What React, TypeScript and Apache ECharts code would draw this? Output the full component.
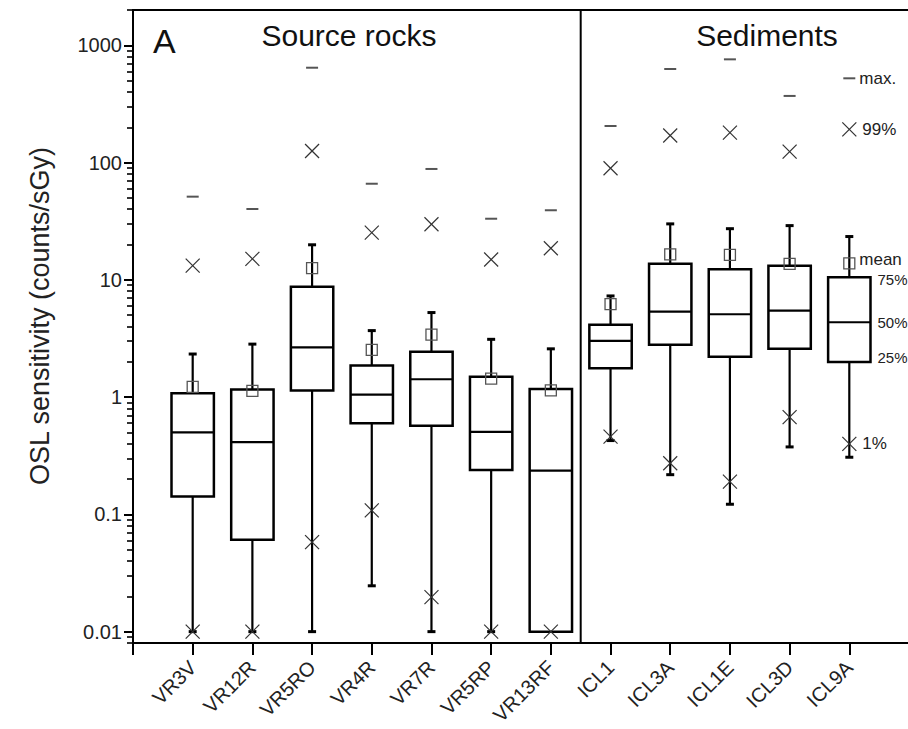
import { useEffect, useRef } from 'react';
import * as echarts from 'echarts';

// ---- data ----
const categories = ['VR3V', 'VR12R', 'VR5RO', 'VR4R', 'VR7R', 'VR5RP', 'VR13RF', 'ICL1', 'ICL3A', 'ICL1E', 'ICL3D', 'ICL9A'];
const whiskerLow = [0.01, 0.01, 0.01, 0.0246, 0.01, 0.01, 0.01, 0.426, 0.218, 0.122, 0.376, 0.307];
const q1 = [0.142, 0.0607, 1.14, 0.598, 0.569, 0.239, 0.01, 1.76, 2.79, 2.21, 2.59, 1.99];
const median = [0.5, 0.413, 2.66, 1.05, 1.42, 0.505, 0.236, 3.02, 5.36, 5.09, 5.46, 4.35];
const q3 = [1.08, 1.16, 8.75, 1.86, 2.44, 1.49, 1.17, 4.13, 13.7, 12.3, 13.2, 10.5];
const whiskerHigh = [2.33, 2.83, 19.9, 3.69, 5.26, 3.11, 2.58, 7.29, 30.0, 27.3, 29.0, 23.4];
const mean = [1.22, 1.13, 12.6, 2.53, 3.41, 1.44, 1.14, 6.2, 16.5, 16.3, 13.7, 13.8];
const p1 = [0.01, 0.01, 0.058, 0.108, 0.0197, 0.01, 0.01, 0.46, 0.273, 0.19, 0.674, 0.399];
const p99 = [13.2, 15.1, 125.6, 25.3, 29.8, 14.9, 18.6, 89.4, 170, 180, 124, 192];
const maxV = [51.2, 40.2, 644, 66, 88.2, 33.2, 39.2, 205, 628, 759, 370, 523];

const yTickValues = [0.01, 0.1, 1, 10, 100, 1000];
const yMin = 0.008;
const yMax = 2000;
const groupTitles = ['Source rocks', 'Sediments'];
const panelLabel = 'A';
const groupDivider = 7.5;
const yAxisTitle = 'OSL sensitivity (counts/sGy)';
const legendLabels = { max: 'max.', p99: '99%', mean: 'mean', q3: '75%', median: '50%', q1: '25%', p1: '1%' };

const minorTicks: number[] = [];
for (let e = -3; e <= 3; e++) {
  for (let m = 2; m <= 9; m++) {
    const v = m * Math.pow(10, e);
    if (v >= yMin && v <= yMax) minorTicks.push(v);
  }
}

const FONT = "'Liberation Sans', Arial, Helvetica, sans-serif";

export default function App() {
  const ref = useRef<HTMLDivElement>(null);
  useEffect(() => {
    if (!ref.current) return;
    const chart = echarts.init(ref.current, undefined, { renderer: 'svg' });
    const data = categories.map((_, i) => [
      i + 1, whiskerLow[i], q1[i], median[i], q3[i], whiskerHigh[i], mean[i], p1[i], p99[i], maxV[i],
    ]);
    const last = categories.length - 1;

    const renderItem = (params: any, api: any) => {
      const x = api.value(0);
      const py = (idx: number) => api.coord([x, api.value(idx)])[1];
      const cx = api.coord([x, 1])[0];
      const half = api.size([1, 1])[0] * 0.355;
      const yWL = py(1), yQ1 = py(2), yMed = py(3), yQ3 = py(4), yWH = py(5), yMean = py(6), yP1 = py(7), yP99 = py(8), yMaxP = py(9);
      const black = { stroke: '#000', lineWidth: 2.2 };
      const cross = (y: number) => [
        { type: 'line', shape: { x1: cx - 7, y1: y - 7, x2: cx + 7, y2: y + 7 }, style: { stroke: '#333', lineWidth: 1.2 } },
        { type: 'line', shape: { x1: cx - 7, y1: y + 7, x2: cx + 7, y2: y - 7 }, style: { stroke: '#333', lineWidth: 1.2 } },
      ];
      const children: any[] = [
        { type: 'line', shape: { x1: cx, y1: yQ3, x2: cx, y2: yWH }, style: black },
        { type: 'line', shape: { x1: cx - 4, y1: yWH, x2: cx + 4, y2: yWH }, style: { stroke: '#000', lineWidth: 3 } },
      ];
      if (yWL - yQ1 > 1) {
        children.push({ type: 'line', shape: { x1: cx, y1: yQ1, x2: cx, y2: yWL }, style: black });
        children.push({ type: 'line', shape: { x1: cx - 4, y1: yWL, x2: cx + 4, y2: yWL }, style: { stroke: '#000', lineWidth: 3 } });
      }
      children.push(
        { type: 'rect', shape: { x: cx - half, y: yQ3, width: half * 2, height: yQ1 - yQ3 }, style: { fill: '#fff', stroke: '#000', lineWidth: 2.5 } },
        { type: 'line', shape: { x1: cx - half, y1: yMed, x2: cx + half, y2: yMed }, style: black },
        { type: 'rect', shape: { x: cx - 5.5, y: yMean - 5.5, width: 11, height: 11 }, style: { fill: 'none', stroke: '#555', lineWidth: 1.3 } },
        ...cross(yP1),
        ...cross(yP99),
        { type: 'line', shape: { x1: cx - 6, y1: yMaxP, x2: cx + 6, y2: yMaxP }, style: { stroke: '#555', lineWidth: 2 } },
      );
      if (params.dataIndex === last) {
        const t = (text: string, tx: number, ty: number, size = 17) => ({
          type: 'text',
          style: { text, x: tx, y: ty, fill: '#222', font: `${size}px ${FONT}`, align: 'left', verticalAlign: 'middle' },
        });
        children.push(
          t(legendLabels.max, cx + 10, yMaxP),
          t(legendLabels.p99, cx + 13, yP99),
          t(legendLabels.mean, cx + 10, yMean - 4),
          t(legendLabels.q3, cx + half + 7, yQ3 + 2, 15),
          t(legendLabels.median, cx + half + 7, yMed, 15),
          t(legendLabels.q1, cx + half + 7, yQ1 - 5, 15),
          t(legendLabels.p1, cx + 13, yP1),
        );
      }
      return { type: 'group', children };
    };

    chart.setOption({
      animation: false,
      backgroundColor: '#fff',
      grid: {
        left: 133, top: 10, width: 776, height: 633,
        outerBoundsMode: 'none', containLabel: false,
        show: true, borderColor: '#000', borderWidth: 2, backgroundColor: 'transparent',
      },
      xAxis: {
        type: 'value',
        min: 0,
        max: 13,
        interval: 1,
        axisLine: { show: true, lineStyle: { color: '#000', width: 2 } },
        axisTick: { show: true, length: 12, lineStyle: { color: '#000', width: 2 } },
        splitLine: { show: false },
        axisLabel: {
          rotate: 45,
          margin: 21,
          color: '#222',
          fontSize: 20,
          fontFamily: FONT,
          formatter: (v: number) => categories[v - 1] ?? '',
        },
      },
      yAxis: [
        {
          type: 'log',
          logBase: 10,
          min: yMin,
          max: yMax,
          position: 'left',
          axisLine: { show: true, lineStyle: { color: '#000', width: 2 } },
          axisTick: { show: true, length: 9, customValues: yTickValues, lineStyle: { color: '#000', width: 2 } },
          axisLabel: {
            customValues: yTickValues,
            margin: 11,
            color: '#222',
            fontSize: 20,
            fontFamily: FONT,
            formatter: (v: number) => String(v),
          },
          splitLine: { show: false },
        },
        {
          type: 'log',
          logBase: 10,
          min: yMin,
          max: yMax,
          position: 'left',
          offset: 0,
          axisLine: { show: false },
          axisTick: { show: true, length: 6, customValues: minorTicks, lineStyle: { color: '#000', width: 1.6 } },
          axisLabel: { show: false },
          splitLine: { show: false },
        },
      ],
      graphic: [
        { type: 'text', left: 153, top: 24, style: { text: panelLabel, fill: '#111', font: `34px ${FONT}` } },
        { type: 'text', x: 349, y: 35, style: { text: groupTitles[0], fill: '#111', font: `30px ${FONT}`, align: 'center', verticalAlign: 'middle' } },
        { type: 'text', x: 767, y: 35, style: { text: groupTitles[1], fill: '#111', font: `30px ${FONT}`, align: 'center', verticalAlign: 'middle' } },
        { type: 'text', x: 40, y: 316, rotation: Math.PI / 2, style: { text: yAxisTitle, fill: '#222', font: `27px ${FONT}`, align: 'center', verticalAlign: 'middle' } },
      ],
      series: [
        {
          type: 'line',
          data: [[groupDivider, yMin], [groupDivider, yMax]],
          symbol: 'none',
          lineStyle: { color: '#000', width: 2 },
          silent: true,
          z: 1,
        },
        {
          type: 'custom',
          renderItem,
          data,
          encode: { x: 0, y: [1, 2, 3, 4, 5, 6, 7, 8, 9] },
          z: 3,
        },
      ],
    });
    return () => chart.dispose();
  }, []);
  return (
    <div style={{ position: 'fixed', left: 0, top: 0, width: 908, height: 729, overflow: 'hidden', background: '#fff' }}>
      <div ref={ref} style={{ width: 908, height: 729 }} />
    </div>
  );
}
